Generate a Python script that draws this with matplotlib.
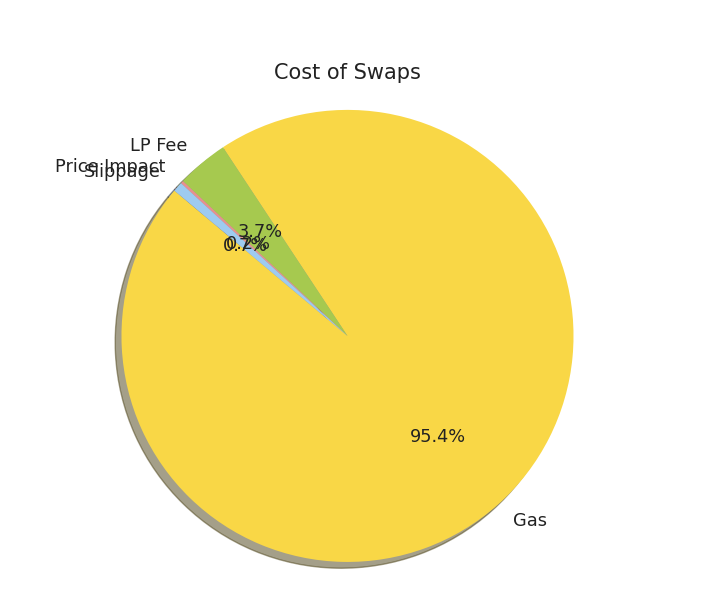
import matplotlib
matplotlib.use("Agg")
import matplotlib.pyplot as plt

labels = ["Gas", "LP Fee", "Price Impact", "Slippage"]
shares = [95.4, 3.7, 0.2, 0.7]
colors = ["#f9d746", "#a6c94f", "#e8908f", "#9ecbf0"]

fig = plt.figure(figsize=(7.02, 6.02), dpi=100)
ax = fig.add_axes([0.095, 0.029, 0.8, 0.826])
ax.pie(shares, labels=labels, colors=colors, autopct="%1.1f%%",
       shadow=True, startangle=140,
       textprops={"fontsize": 12.8, "color": "#222222"})
ax.set_title("Cost of Swaps", fontsize=15, color="#222222")
ax.axis("equal")

fig.savefig("out.png", dpi=100)
